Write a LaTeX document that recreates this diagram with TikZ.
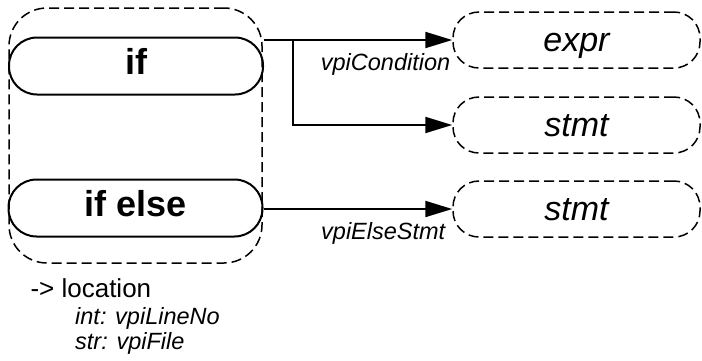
\documentclass[tikz,border=0pt]{standalone}
\usepackage{fontspec}
\setmainfont{Liberation Sans}
\usetikzlibrary{arrows.meta,positioning,calc}

\begin{document}
\begin{tikzpicture}[x=1pt,y=-1pt,
    kind/.style={draw, line width=2pt, rounded corners=28pt, minimum width=254pt, minimum height=57pt, inner sep=0pt, text height=26pt, text depth=10pt, font=\fontsize{36}{36}\selectfont\bfseries},
    target/.style={draw, dash pattern=on 10pt off 5pt, line width=1.5pt, rounded corners=26pt, minimum width=247pt, minimum height=56pt, inner sep=0pt, text height=24pt, text depth=2pt, font=\fontsize{34}{34}\selectfont\itshape},
    link/.style={-{Triangle[length=27pt,width=16pt]}, line width=2pt},
    lbl/.style={font=\fontsize{23.5}{23.5}\selectfont\itshape, inner sep=0pt}]
  \useasboundingbox (0,0) rectangle (702,360);
  % object group
  \node[draw, dash pattern=on 10pt off 5pt, line width=1.5pt, rounded corners=38pt, minimum width=253pt, minimum height=255pt] (group) at (135.5,135.5) {};
  \node[kind] (if) at (136,66) {if};
  \node[kind] (ifelse) at (135.5,208) {if else};
  % targets
  \node[target] (expr) at (576.5,40) {expr};
  \node[target] (stmt) at (576.5,125) {stmt};
  \node[target] (elsestmt) at (576.5,209) {stmt};
  % relations
  \coordinate (fork) at (293,40);
  \draw[link] (if.east |- expr.west) -- node[lbl, pos=1, anchor=base east, xshift=-1pt, yshift=-30pt] (cond) {vpiCondition} (expr.west);
  \draw[link] (fork) |- (stmt.west);
  \draw[link] (ifelse.east |- elsestmt.west) -- node[lbl, pos=1, anchor=base east, xshift=-6pt, yshift=-30pt] (elselbl) {vpiElseStmt} (elsestmt.west);
  % location
  \node[anchor=base west, font=\fontsize{26}{26}\selectfont] (loc) at (27,297) {-> location};
  \node[lbl, anchor=base west] (line) at (75,324) {int: vpiLineNo};
  \node[lbl, anchor=base west] (file) at (75,349) {str: vpiFile};
\end{tikzpicture}
\end{document}
